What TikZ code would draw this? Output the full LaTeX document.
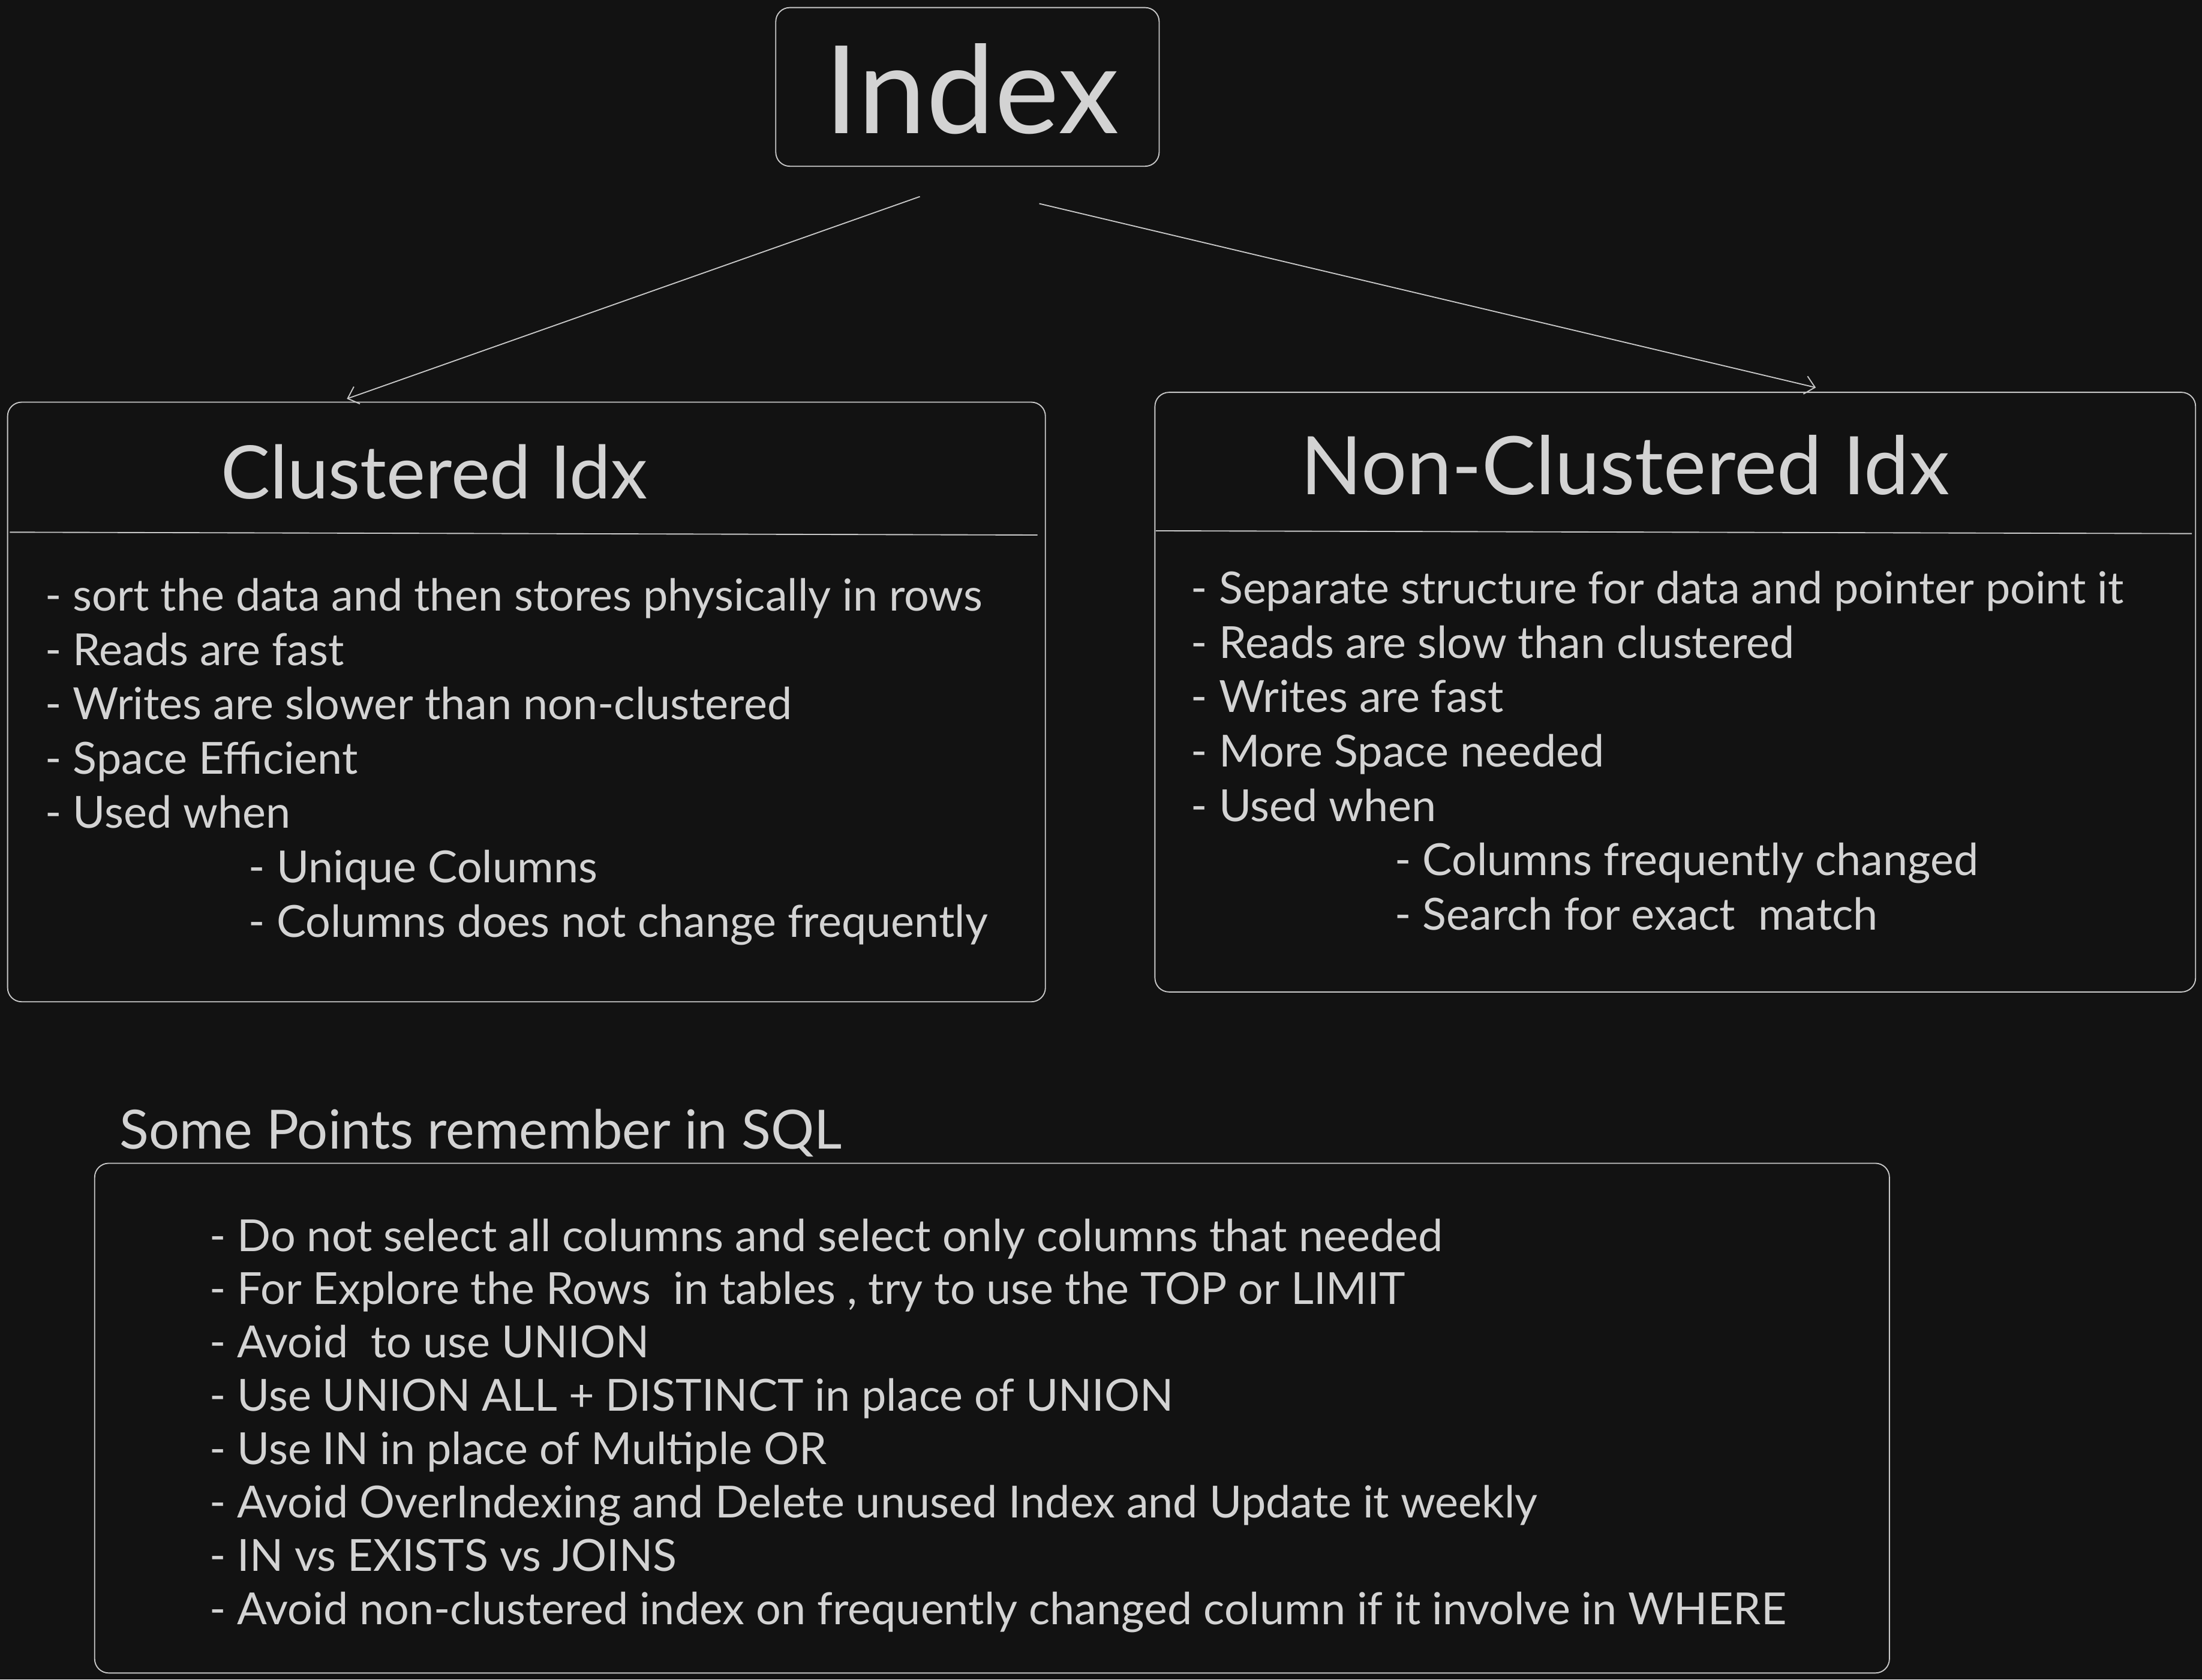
\documentclass[tikz,border=0pt]{standalone}
\usepackage{fontspec}
\setmainfont{Lato}
\usetikzlibrary{arrows.meta}
\definecolor{bgdark}{HTML}{121212}
\definecolor{inkgray}{HTML}{D3D3D3}
\definecolor{edgegray}{HTML}{C8C8C8}
\tikzset{
  card/.style={draw=edgegray, line width=0.8pt, rounded corners=10pt, inner sep=0pt, anchor=north west},
  item/.style={text=inkgray, font=\fontsize{31.5}{36}\selectfont, anchor=base west, inner sep=0pt},
  heading/.style={text=inkgray, anchor=base west, inner sep=0pt},
  link/.style={draw=edgegray, line width=0.8pt, -{Straight Barb[length=7pt,width=13pt]}},
  rule/.style={draw=edgegray, line width=0.8pt}
}
\begin{document}
\begin{tikzpicture}[x=1pt,y=-1pt]
% background and page size
\fill[bgdark] (0,0) rectangle (1568,1196);
\useasboundingbox (0,0) rectangle (1568,1196);

%% the boxes
\node[card, minimum width=273pt, minimum height=113pt] (idx) at (552,5) {};
\node[card, minimum width=739pt, minimum height=427pt] (clus) at (5,286) {};
\node[card, minimum width=741pt, minimum height=427pt] (nclus) at (822,279) {};
\node[card, minimum width=1278pt, minimum height=363pt] (tips) at (67,828) {};

%% the headings
\node[heading, font=\fontsize{87}{90}\selectfont] (idx-t) at (587,95) {Index};
\node[heading, font=\fontsize{52.5}{56}\selectfont] (clus-t) at (157,355) {Clustered Idx};
\node[heading, font=\fontsize{57.5}{60}\selectfont] (nclus-t) at (926,352) {Non-Clustered Idx};
\node[heading, font=\fontsize{38.5}{40}\selectfont] (tips-t) at (85,818) {Some Points remember in SQL};

% header rules
\draw[rule] ([xshift=2pt,yshift=-93pt]clus.north west) -- ([xshift=-6pt,yshift=-95pt]clus.north east);
\draw[rule] ([xshift=1pt,yshift=-99pt]nclus.north west) -- ([xshift=-3pt,yshift=-101pt]nclus.north east);

%% the arrows
\coordinate (idx-l) at (655,140);
\coordinate (idx-r) at (740,145);
\coordinate (clus-in) at (247,284);
\coordinate (nclus-in) at (1293,276);
\draw[link] (idx-l) -- (clus-in);
\draw[link] (idx-r) -- (nclus-in);

%% the lists
\foreach \x/\txt [count=\i] in {32/- sort the data and then stores physically in rows,
  32/- Reads are fast, 32/- Writes are slower than non-clustered, 32/- Space Efficient,
  32/- Used when, 177/- Unique Columns, 177/- Columns does not change frequently}
  \node[item] (clus-\i) at (\x,{435+38.7*(\i-1)}) {\txt};

\foreach \x/\txt [count=\i] in {848/- Separate structure for data and pointer point it,
  848/- Reads are slow than clustered, 848/- Writes are fast, 848/- More Space needed,
  848/- Used when, 993/- Columns frequently changed, 993/- Search for exact~ match}
  \node[item] (nclus-\i) at (\x,{430+38.7*(\i-1)}) {\txt};

\foreach \txt [count=\i] in {- Do not select all columns and select only columns that needed,
  {- For Explore the Rows~ in tables , try to use the TOP or LIMIT},
  - Avoid~ to use UNION, - Use UNION ALL + DISTINCT in place of UNION,
  - Use IN in place of Multiple OR,
  - Avoid OverIndexing and Delete unused Index and Update it weekly,
  - IN vs EXISTS vs JOINS,
  - Avoid non-clustered index on frequently changed column if it involve in WHERE}
  \node[item] (tips-\i) at (149,{891+38*(\i-1)}) {\txt};
\end{tikzpicture}
\end{document}
